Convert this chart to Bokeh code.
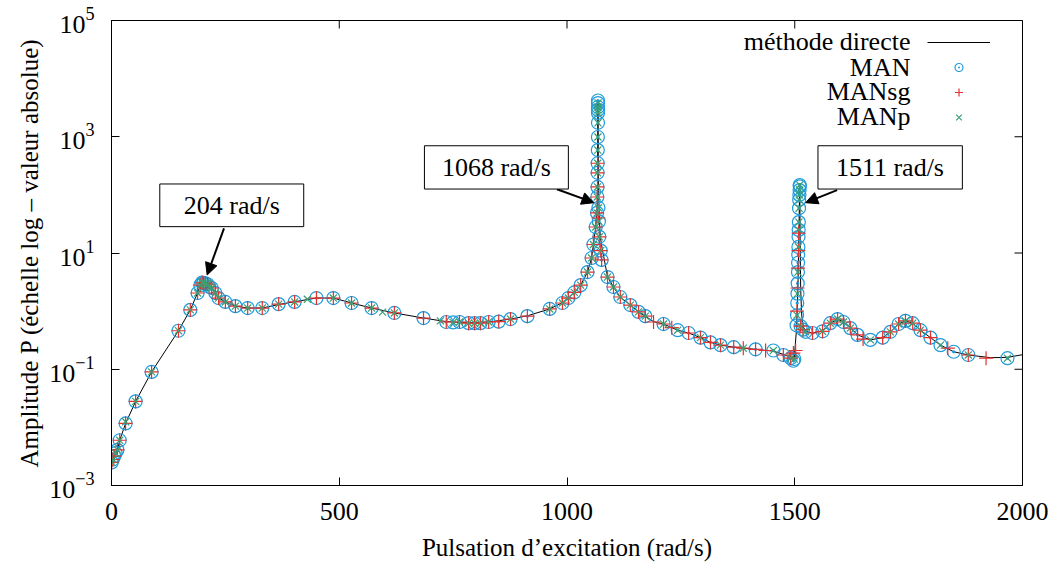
import math
from bokeh.plotting import figure
from bokeh.models import (Range1d, FixedTicker, LogTickFormatter,
                          Legend, LegendItem, Label, BoxAnnotation, Arrow, NormalHead)
from bokeh.core.properties import value
from bokeh.embed import file_html
from bokeh.resources import INLINE

FONT = "Liberation Serif"

# ---------------- data ----------------
x_min, x_max = 0, 2000
y_min, y_max = 1e-3, 1e5
x_ticks = [0, 500, 1000, 1500, 2000]
y_ticks = [1e-3, 1e-1, 1e1, 1e3, 1e5]

w_direct = [0, 5, 13, 18, 31, 53, 88, 147, 173, 189,
            195, 202, 211, 220, 228, 235, 250, 272, 299, 331,
            367, 402, 450, 487, 527, 571, 621, 685, 735, 784,
            828, 876, 913, 962, 990, 1003, 1016, 1030, 1045, 1054,
            1058, 1063, 1066, 1067, 1068, 1069, 1071, 1073, 1078, 1082,
            1089, 1102, 1117, 1139, 1157, 1172, 1190, 1212, 1243, 1267,
            1293, 1315, 1337, 1366, 1387, 1414, 1453, 1475, 1491, 1499,
            1504, 1507, 1509, 1510, 1511, 1512, 1513, 1515, 1518, 1524,
            1539, 1561, 1578, 1594, 1607, 1622, 1638, 1666, 1693, 1710,
            1728, 1743, 1759, 1776, 1798, 1820, 1849, 1881, 1930, 1967,
            2000]
p_direct = [0.0025, 0.0031, 0.0041, 0.006, 0.0117, 0.028, 0.09, 0.46, 1.05, 2.05,
            2.8, 3.1, 2.9, 2.5, 2.05, 1.7, 1.44, 1.22, 1.13, 1.13,
            1.3, 1.45, 1.68, 1.68, 1.38, 1.13, 0.93, 0.76, 0.66, 0.63,
            0.65, 0.73, 0.83, 1.09, 1.4, 1.7, 2.1, 2.8, 4.7, 8.2,
            14, 28, 55, 150, 4200, 150, 40, 19, 11, 7.6,
            3.9, 2.6, 1.75, 1.27, 0.97, 0.82, 0.66, 0.6, 0.47, 0.42,
            0.35, 0.29, 0.26, 0.24, 0.23, 0.22, 0.205, 0.18, 0.16, 0.16,
            0.5, 2.5, 20, 60, 150, 12, 2.5, 0.9, 0.55, 0.45,
            0.42, 0.46, 0.62, 0.72, 0.66, 0.52, 0.39, 0.32, 0.35, 0.44,
            0.6, 0.68, 0.62, 0.47, 0.35, 0.26, 0.2, 0.176, 0.158, 0.16,
            0.178]

w_man = [0.5, 3, 6, 9, 13, 18, 31, 53, 88, 147,
         173, 189, 195, 199, 202, 206, 211, 215, 220, 228,
         235, 250, 272, 299, 331, 367, 402, 450, 487, 527,
         571, 621, 685, 735, 750, 764, 784, 797, 810, 828,
         850, 876, 913, 962, 990, 1003, 1016, 1030, 1045, 1054,
         1058, 1063, 1066, 1066.5, 1067, 1067.2, 1067.4, 1067.6, 1067.8, 1068,
         1068, 1068, 1068, 1068, 1068, 1069, 1070, 1071, 1074, 1076,
         1089, 1102, 1117, 1139, 1157, 1172, 1212, 1243, 1267, 1293,
         1315, 1337, 1366, 1414, 1453, 1475, 1491, 1497, 1499, 1504,
         1505, 1505.5, 1506, 1506.5, 1507, 1507.3, 1507.6, 1508, 1508.3, 1508.6,
         1509, 1509.4, 1509.8, 1510.2, 1510.6, 1511, 1511, 1513, 1518, 1524,
         1539, 1561, 1578, 1594, 1607, 1622, 1638, 1666, 1693, 1710,
         1728, 1743, 1759, 1776, 1798, 1820, 1849, 1881, 1967]
p_man = [0.0025, 0.0028, 0.0032, 0.0036, 0.0041, 0.006, 0.0117, 0.028, 0.09, 0.46,
         1.05, 2.05, 2.8, 3.1, 3.05, 3.0, 2.9, 2.6, 2.5, 2.05,
         1.68, 1.44, 1.22, 1.13, 1.13, 1.32, 1.44, 1.68, 1.68, 1.38,
         1.13, 0.93, 0.76, 0.65, 0.64, 0.65, 0.62, 0.62, 0.62, 0.65,
         0.66, 0.73, 0.82, 1.09, 1.38, 1.68, 2.1, 2.8, 4.7, 8.2,
         14, 28, 49, 92, 137, 240, 350, 590, 990, 1740,
         2570, 2900, 3250, 3800, 4200, 60, 35, 19, 11, 7.6,
         3.86, 2.6, 1.75, 1.27, 0.97, 0.82, 0.6, 0.47, 0.42, 0.35,
         0.29, 0.26, 0.24, 0.22, 0.21, 0.176, 0.155, 0.14, 0.15, 0.57,
         0.85, 1.38, 2.0, 3.0, 4.7, 6.8, 9.3, 12.7, 19, 25,
         34, 59, 82, 100, 121, 148, 140, 0.55, 0.48, 0.44,
         0.42, 0.45, 0.62, 0.73, 0.65, 0.51, 0.39, 0.32, 0.35, 0.44,
         0.6, 0.68, 0.62, 0.47, 0.35, 0.26, 0.2, 0.176, 0.155]

w_sg = [0.5, 3, 6, 13, 18, 31, 53, 88, 147, 173,
        189, 195, 199, 202, 206, 211, 220, 228, 235, 250,
        272, 299, 331, 367, 402, 450, 487, 527, 571, 621,
        685, 735, 764, 784, 797, 810, 828, 850, 876, 913,
        962, 990, 1003, 1016, 1030, 1045, 1054, 1058, 1063, 1066,
        1066.5, 1067, 1067.2, 1067.4, 1069, 1071, 1074, 1076, 1089, 1102,
        1117, 1139, 1157, 1172, 1190, 1212, 1230, 1267, 1293, 1315,
        1337, 1366, 1387, 1414, 1436, 1475, 1491, 1497, 1502, 1505,
        1506, 1507, 1508, 1508.6, 1513, 1518, 1539, 1561, 1578, 1594,
        1607, 1622, 1638, 1650, 1693, 1710, 1728, 1743, 1759, 1776,
        1798, 1836, 1881, 1920]
p_sg = [0.0025, 0.0028, 0.0032, 0.0041, 0.006, 0.0117, 0.028, 0.09, 0.46, 1.05,
        2.05, 2.8, 3.1, 3.05, 3.0, 2.9, 2.5, 2.05, 1.68, 1.44,
        1.22, 1.13, 1.13, 1.32, 1.44, 1.68, 1.68, 1.38, 1.13, 0.93,
        0.76, 0.65, 0.65, 0.62, 0.62, 0.62, 0.65, 0.66, 0.73, 0.82,
        1.09, 1.38, 1.68, 2.1, 2.8, 4.7, 8.2, 14, 28, 49,
        92, 137, 240, 350, 40, 19, 11, 7.6, 3.86, 2.6,
        1.75, 1.27, 0.97, 0.82, 0.65, 0.6, 0.52, 0.42, 0.35, 0.29,
        0.26, 0.24, 0.23, 0.22, 0.21, 0.176, 0.155, 0.19, 0.21, 1.0,
        2.5, 5.5, 11, 22, 0.55, 0.48, 0.42, 0.45, 0.62, 0.73,
        0.65, 0.51, 0.39, 0.33, 0.35, 0.44, 0.6, 0.68, 0.62, 0.47,
        0.35, 0.23, 0.176, 0.155]

w_p = [0.5, 3, 9, 13, 18, 31, 53, 88, 147, 173,
       189, 195, 199, 202, 206, 211, 215, 220, 228, 235,
       250, 272, 299, 331, 367, 402, 430, 487, 527, 571,
       595, 621, 722, 750, 764, 784, 797, 810, 828, 876,
       962, 990, 1003, 1016, 1030, 1045, 1054, 1058, 1063, 1066,
       1066.5, 1067, 1067.2, 1067.4, 1067.6, 1067.8, 1068, 1068, 1068, 1068,
       1068, 1069, 1070, 1071, 1074, 1089, 1102, 1117, 1139, 1157,
       1172, 1212, 1243, 1293, 1337, 1387, 1453, 1491, 1499, 1505,
       1506, 1507, 1508, 1508.6, 1509, 1509.4, 1509.8, 1510.2, 1510.6, 1511,
       1513, 1524, 1561, 1578, 1594, 1607, 1622, 1666, 1710, 1728,
       1743, 1759, 1776, 1820, 1881, 1967]
p_p = [0.0025, 0.0028, 0.0036, 0.0041, 0.006, 0.0125, 0.028, 0.09, 0.46, 1.05,
       2.05, 2.8, 3.1, 3.05, 3.0, 2.9, 2.6, 2.5, 2.05, 1.68,
       1.44, 1.22, 1.13, 1.13, 1.32, 1.44, 1.6, 1.68, 1.38, 1.13,
       0.96, 0.93, 0.68, 0.64, 0.65, 0.62, 0.62, 0.62, 0.65, 0.73,
       1.09, 1.38, 1.68, 2.1, 2.8, 4.7, 8.2, 14, 28, 49,
       92, 137, 240, 350, 590, 990, 1740, 2570, 2900, 3250,
       3800, 60, 35, 19, 11, 3.86, 2.6, 1.75, 1.27, 0.97,
       0.82, 0.6, 0.47, 0.35, 0.26, 0.23, 0.21, 0.155, 0.15, 0.85,
       2.0, 4.7, 12.7, 25, 34, 59, 82, 100, 121, 148,
       0.55, 0.44, 0.45, 0.62, 0.73, 0.65, 0.51, 0.32, 0.44, 0.6,
       0.68, 0.62, 0.47, 0.26, 0.176, 0.155]

series_labels = ["méthode directe", "MAN", "MANsg", "MANp"]
peak_labels = ["204 rad/s", "1068 rad/s", "1511 rad/s"]

# ---------------- figure ----------------
p = figure(width=1055, height=565, output_backend="svg", toolbar_location=None,
           x_range=Range1d(x_min, x_max), y_range=Range1d(y_min, y_max), y_axis_type="log",
           min_border_left=111, min_border_right=33, min_border_top=20,
           min_border_bottom=80)
p.grid.visible = False
p.outline_line_color = "black"
p.outline_line_width = 1
p.background_fill_color = "white"
p.border_fill_color = "white"

xa = p.xaxis[0]
xa.ticker = FixedTicker(ticks=x_ticks, minor_ticks=[])
ya = p.yaxis[0]
ya.ticker = FixedTicker(ticks=y_ticks, minor_ticks=[])
ya.formatter = LogTickFormatter()
for ax in (xa, ya):
    ax.major_tick_in = 8
    ax.major_tick_out = 0
    ax.minor_tick_in = 0
    ax.minor_tick_out = 0
    ax.axis_line_color = "black"
    ax.major_tick_line_color = "black"
    ax.major_label_text_font = FONT
    ax.major_label_text_font_size = "26px"
    ax.major_label_text_color = "black"
    ax.axis_label_text_font = FONT
    ax.axis_label_text_font_size = "25px"
    ax.axis_label_text_font_style = "normal"
    ax.axis_label_text_color = "black"
xa.axis_label = "Pulsation d’excitation (rad/s)"
ya.axis_label = "Amplitude P (échelle log – valeur absolue)"
xa.major_label_standoff = 17
xa.axis_label_standoff = 11
ya.major_label_standoff = 17
ya.axis_label_standoff = 3

# mirrored ticks on the top and right frame edges (half of each dash is clipped)
p.scatter([x_max] * len(y_ticks), y_ticks, marker="dash", size=16,
          line_color="black", line_width=1)
p.scatter(x_ticks, [y_max] * len(x_ticks), marker="dash", angle=math.pi / 2, size=16,
          line_color="black", line_width=1)

# ---------------- data renderers ----------------
c_blue = "#1f9bdc"
c_red = "#e3312f"
c_green = "#3c9f72"

r_line = p.line(w_direct, p_direct, line_color="black", line_width=1)
r_man = p.scatter(w_man, p_man, marker="circle_dot", size=13, fill_color=None,
                  line_color=c_blue, line_width=1.2)
r_sg = p.scatter(w_sg, p_sg, marker="cross", size=14, line_color=c_red, line_width=1.2)
r_p = p.scatter(w_p, p_p, marker="x", size=10, line_color=c_green, line_width=1.2)

# ---------------- legend (glyphs right, labels left) ----------------
legend = Legend(items=[LegendItem(label=value(" "), renderers=[r]) for r in (r_line, r_man, r_sg, r_p)],
                location="top_right", glyph_width=63, glyph_height=20,
                label_height=20, label_width=20, label_standoff=0, padding=0,
                spacing=5, margin=12, border_line_color=None,
                background_fill_alpha=0, label_text_font_size="20px")
p.add_layout(legend)

leg_y = [42800, 15800, 5900, 2190]
for txt, yy in zip(series_labels, leg_y):
    p.add_layout(Label(x=1754, y=yy, text=txt, text_align="right", text_baseline="middle",
                       text_font=FONT, text_font_size="26px", text_color="black"))

# ---------------- annotations ----------------
boxes = [(106, 422, 28.4, 154), (687, 1003, 126, 700), (1551, 1868, 126, 700)]
centers = [(264, 66), (845, 297), (1709, 297)]
arrows = [(247, 26.6, 210, 4.18), (978, 124.8, 1059, 73.4), (1593, 121, 1524, 73.4)]

for (l, r, b, t), (cx, cy), txt, (xs, ys, xe, ye) in zip(boxes, centers, peak_labels, arrows):
    p.add_layout(Arrow(end=NormalHead(size=12, fill_color="black", line_color="black"),
                       x_start=xs, y_start=ys, x_end=xe, y_end=ye,
                       line_color="black", line_width=2))
    p.add_layout(BoxAnnotation(left=l, right=r, bottom=b, top=t, fill_color="white",
                               fill_alpha=1, line_color="black", line_width=1,
                               line_alpha=1))
    p.add_layout(Label(x=cx, y=cy, text=txt, text_align="center", text_baseline="middle",
                       text_font=FONT, text_font_size="26px", text_color="black"))

open("out.html", "w").write(file_html(p, INLINE))
